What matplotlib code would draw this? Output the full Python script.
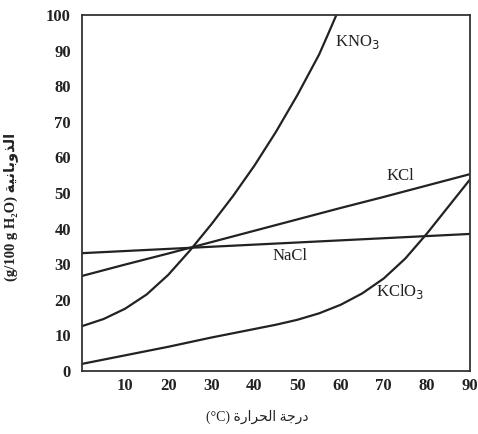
import matplotlib
matplotlib.use("Agg")
import matplotlib.pyplot as plt

# solubility values (g / 100 g water)
temp_kno3 = [0, 5, 10, 15, 20, 25, 30, 35, 40, 45, 50, 55, 57, 59]
kno3 = [12.6, 14.6, 17.5, 21.5, 27.0, 33.8, 41.2, 49.1, 57.7, 67.2, 77.6,
        88.9, 94.4, 100]

temp = [0, 10, 20, 30, 40, 50, 60, 70, 80, 90]
kcl = [26.7, 29.9, 33.0, 36.2, 39.4, 42.6, 45.8, 48.9, 52.1, 55.3]
nacl = [33.1, 33.7, 34.3, 34.9, 35.5, 36.1, 36.7, 37.3, 37.9, 38.5]

temp_kclo3 = [0, 5, 10, 15, 20, 25, 30, 35, 40, 45, 50, 55, 60, 65, 70, 75, 80, 85, 90]
kclo3 = [2, 3.2, 4.4, 5.6, 6.8, 8.1, 9.4, 10.6, 11.8, 13.0, 14.4, 16.2, 18.6,
         21.8, 26.0, 31.6, 38.6, 46.2, 53.8]

xticks = [10, 20, 30, 40, 50, 60, 70, 80, 90]
yticks = [0, 10, 20, 30, 40, 50, 60, 70, 80, 90, 100]

xlabel_ar = "درجة الحرارة"
ylabel_ar = "الذوبانية"

# matplotlib has no arabic shaping, so pick the contextual forms by hand
# (isolated, final, initial, medial)
FORMS = {
    "ا": ("\uFE8D", "\uFE8E", None, None),
    "ب": ("\uFE8F", "\uFE90", "\uFE91", "\uFE92"),
    "ة": ("\uFE93", "\uFE94", None, None),
    "ج": ("\uFE9D", "\uFE9E", "\uFE9F", "\uFEA0"),
    "ح": ("\uFEA1", "\uFEA2", "\uFEA3", "\uFEA4"),
    "د": ("\uFEA9", "\uFEAA", None, None),
    "ذ": ("\uFEAB", "\uFEAC", None, None),
    "ر": ("\uFEAD", "\uFEAE", None, None),
    "ل": ("\uFEDD", "\uFEDE", "\uFEDF", "\uFEE0"),
    "ن": ("\uFEE5", "\uFEE6", "\uFEE7", "\uFEE8"),
    "و": ("\uFEED", "\uFEEE", None, None),
    "ي": ("\uFEF1", "\uFEF2", "\uFEF3", "\uFEF4"),
}


def shape(s):
    out = []
    for i, ch in enumerate(s):
        if ch not in FORMS:
            out.append(ch)
            continue
        prev = s[i - 1] if i > 0 else ""
        nxt = s[i + 1] if i + 1 < len(s) else ""
        jp = prev in FORMS and FORMS[prev][2] is not None
        jn = FORMS[ch][2] is not None and nxt in FORMS
        if jp and jn:
            out.append(FORMS[ch][3])
        elif jp:
            out.append(FORMS[ch][1])
        elif jn:
            out.append(FORMS[ch][2])
        else:
            out.append(FORMS[ch][0])
    return "".join(out[::-1])


fams = ["Liberation Serif", "DejaVu Sans"]
plt.rcParams["font.family"] = fams

fig = plt.figure(figsize=(4.78, 4.34), dpi=100)
ax = fig.add_axes([82 / 478, 1 - 371 / 434, 388 / 478, 356 / 434])

col = "#222222"
lw = 1.6
ax.plot(temp_kno3, kno3, color=col, lw=lw)
ax.plot(temp, kcl, color=col, lw=lw)
ax.plot(temp, nacl, color=col, lw=lw)
ax.plot(temp_kclo3, kclo3, color=col, lw=lw)

ax.set_xlim(0, 90)
ax.set_ylim(0, 100)
ax.set_xticks(xticks)
ax.set_yticks(yticks)
ax.tick_params(length=0, labelsize=12, colors=col)
ax.tick_params(axis="y", pad=8)
ax.tick_params(axis="x", pad=5)
for lab in ax.get_xticklabels() + ax.get_yticklabels():
    lab.set_fontweight("bold")
for sp in ax.spines.values():
    sp.set_linewidth(1.3)
    sp.set_color("#333333")

tkw = dict(fontsize=12, color=col)
ax.text(58.7, 92.4, "KNO$_3$", ha="left", va="center", **tkw)
ax.text(73.8, 54.8, "KCl", ha="center", va="center", **tkw)
ax.text(48.3, 32.3, "NaCl", ha="center", va="center", **tkw)
ax.text(73.8, 22.2, "KClO$_3$", ha="center", va="center", **tkw)

ax.set_xlabel("(°C) " + shape(xlabel_ar), fontsize=10, color=col)
ax.xaxis.set_label_coords(0.451, -0.11)
ax.set_ylabel("(g/100 g H₂O) " + shape(ylabel_ar), fontsize=10.5,
              color=col, fontweight="bold")
ax.yaxis.set_label_coords(-0.165, 0.46)

fig.savefig("out.png", dpi=100)
